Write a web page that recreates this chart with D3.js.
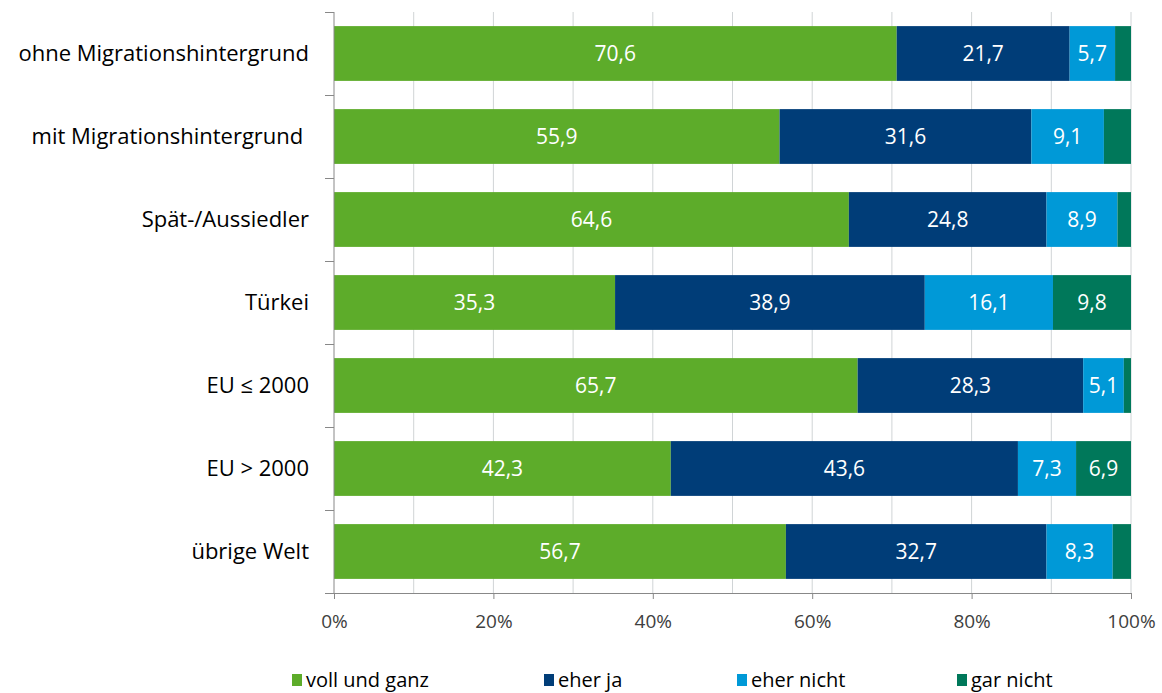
<!DOCTYPE html>
<html>
<head>
<meta charset="utf-8">
<script src="https://cdn.jsdelivr.net/npm/d3@7"></script>
<style>
  body { margin: 0; background: #fff; }
  text { font-family: "Open Sans", sans-serif; }
</style>
</head>
<body>
<svg width="1162" height="693"></svg>
<script>
// categories and series (percent)
let categories = ["ohne Migrationshintergrund", "mit Migrationshintergrund ", "Spät-/Aussiedler",
    "Türkei", "EU ≤ 2000", "EU > 2000", "übrige Welt"];
let series = ["voll und ganz", "eher ja", "eher nicht", "gar nicht"];
let vollUndGanz = [70.6, 55.9, 64.6, 35.3, 65.7, 42.3, 56.7];
let eherJa = [21.7, 31.6, 24.8, 38.9, 28.3, 43.6, 32.7];
let eherNicht = [5.7, 9.1, 8.9, 16.1, 5.1, 7.3, 8.3];
let garNicht = [2.0, 3.4, 1.7, 9.8, 0.9, 6.9, 2.3];
let tickValues = [0, 0.2, 0.4, 0.6, 0.8, 1];

let colors = d3.scaleOrdinal()
    .domain(series)
    .range(["#5dac2a", "#003d78", "#0099d7", "#00785a"]);

let svg = d3.select("svg"),
    margin = { top: 12, right: 31, bottom: 100, left: 334 },
    width = +svg.attr("width") - margin.left - margin.right,
    height = +svg.attr("height") - margin.top - margin.bottom,
    g = svg.append("g").attr("transform", "translate(" + margin.left + "," + margin.top + ")");

// build rows for the stack
let rows = categories.map((c, i) => ({
    cat: c,
    "voll und ganz": vollUndGanz[i],
    "eher ja": eherJa[i],
    "eher nicht": eherNicht[i],
    "gar nicht": garNicht[i]
}));

let stacked = d3.stack().keys(series).offset(d3.stackOffsetExpand)(rows);

let x = d3.scaleLinear().domain([0, 1]).range([0, width]);
let y = d3.scaleBand().domain(categories).range([0, height]).paddingInner(0.34).paddingOuter(0.17);
let band = d3.scaleBand().domain(categories).range([0, height]);

// vertical gridlines every 10%
g.append("g")
    .selectAll("line")
    .data(d3.range(1, 11).map(d => d / 10))
    .enter().append("line")
    .attr("x1", d => x(d)).attr("x2", d => x(d))
    .attr("y1", 0).attr("y2", height)
    .attr("stroke", "#d0d4d6")
    .attr("stroke-width", 1);

// bars
let layer = g.selectAll(".layer")
    .data(stacked)
    .enter().append("g")
    .attr("class", "layer")
    .attr("fill", d => colors(d.key));

layer.selectAll("rect")
    .data(d => d)
    .enter().append("rect")
    .attr("x", d => x(d[0]))
    .attr("y", d => y(d.data.cat))
    .attr("width", d => x(d[1]) - x(d[0]))
    .attr("height", y.bandwidth());

// value labels (small slices left unlabeled)
layer.selectAll("text")
    .data(d => d.map(p => ({ p: p, v: p.data[d.key] })))
    .enter().append("text")
    .filter(d => d.v >= 5)
    .attr("x", d => (x(d.p[0]) + x(d.p[1])) / 2)
    .attr("y", d => y(d.p.data.cat) + y.bandwidth() / 2)
    .attr("dy", "0.35em")
    .attr("text-anchor", "middle")
    .attr("fill", "#fff")
    .style("font-size", "21px")
    .text(d => d3.format(".1f")(d.v).replace(".", ","));

// y axis line with ticks between categories
g.append("line")
    .attr("x1", 0).attr("x2", 0).attr("y1", 0).attr("y2", height)
    .attr("stroke", "#888").attr("stroke-width", 1);
g.append("g")
    .selectAll("line")
    .data(categories)
    .enter().append("line")
    .attr("x1", -9).attr("x2", 0)
    .attr("y1", d => band(d) + 0.5).attr("y2", d => band(d) + 0.5)
    .attr("stroke", "#888");

// category labels
g.append("g")
    .selectAll("text")
    .data(categories)
    .enter().append("text")
    .attr("x", -25)
    .attr("y", d => y(d) + y.bandwidth() / 2)
    .attr("dy", "0.35em")
    .attr("text-anchor", "end")
    .attr("fill", "#000")
    .style("font-size", "22px")
    .style("white-space", "pre")
    .text(d => d);

// x axis
let xAxis = g.append("g")
    .attr("transform", "translate(0," + height + ")")
    .call(d3.axisBottom(x).tickValues(tickValues).tickFormat(d3.format(".0%")).tickSize(6).tickPadding(16));
xAxis.select(".domain").attr("stroke", "#888").attr("d", "M-9,0.5H" + width);
xAxis.selectAll(".tick line").attr("stroke", "#888");
xAxis.selectAll(".tick text")
    .attr("fill", "#404040")
    .style("font-size", "19px")
    .style("font-family", "'Open Sans', sans-serif");

// legend
let legendX = [292, 544, 737, 957];
let legend = svg.append("g")
    .selectAll("g")
    .data(series)
    .enter().append("g")
    .attr("transform", (d, i) => "translate(" + legendX[i] + ",680)");
legend.append("rect")
    .attr("x", 0).attr("y", -6)
    .attr("width", 10).attr("height", 12)
    .attr("fill", d => colors(d));
legend.append("text")
    .attr("x", 14)
    .attr("y", 0)
    .attr("dy", "0.35em")
    .attr("fill", "#000")
    .style("font-size", "20px")
    .text(d => d);
</script>
</body>
</html>
